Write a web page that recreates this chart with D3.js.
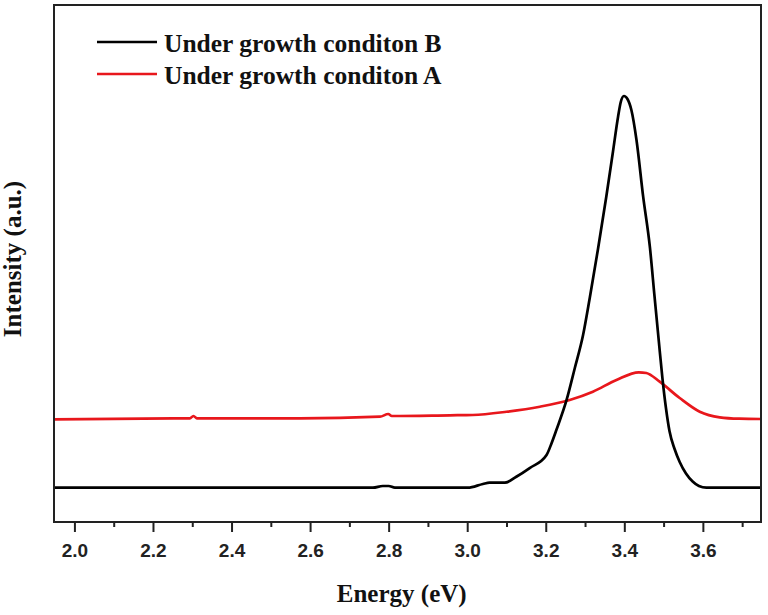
<!DOCTYPE html>
<html>
<head>
<meta charset="utf-8">
<script src="https://cdn.jsdelivr.net/npm/d3@7/dist/d3.min.js"></script>
<style>
  html, body { margin: 0; padding: 0; background: #fff; }
  svg { display: block; }
</style>
</head>
<body>
<svg id="chart" width="768" height="615"></svg>
<script>
// ---- Data ----
const seriesNames = ["Under growth conditon B", "Under growth conditon A"];
const seriesColors = ["#000000", "#e8171c"];

const energyB = [1.948, 2.76, 2.785, 2.80, 2.816, 3.002, 3.040, 3.057, 3.096, 3.125, 3.159, 3.202, 3.215, 3.227, 3.253, 3.274, 3.295, 3.312, 3.333, 3.354, 3.371, 3.384, 3.391, 3.399, 3.408, 3.418, 3.431, 3.448, 3.465, 3.477, 3.488, 3.497, 3.506, 3.515, 3.528, 3.541, 3.557, 3.574, 3.590, 3.609, 3.748];
const intensityB = [6.63, 6.63, 6.96, 6.96, 6.63, 6.63, 7.35, 7.60, 7.60, 8.76, 10.44, 12.96, 15.28, 17.79, 23.60, 29.79, 36.17, 43.33, 52.80, 62.86, 71.57, 78.34, 81.24, 82.40, 81.82, 79.69, 73.89, 62.92, 53.25, 43.58, 34.82, 27.85, 22.05, 17.60, 14.12, 11.61, 9.38, 7.83, 6.96, 6.63, 6.63];

const energyA = [1.948, 2.277, 2.294, 2.303, 2.312, 2.574, 2.778, 2.799, 2.808, 2.956, 3.014, 3.100, 3.185, 3.261, 3.320, 3.380, 3.437, 3.456, 3.490, 3.541, 3.592, 3.643, 3.693, 3.748];
const intensityA = [19.86, 20.06, 20.06, 20.50, 20.06, 20.06, 20.37, 20.89, 20.50, 20.64, 20.70, 21.33, 22.30, 23.60, 25.20, 27.47, 28.96, 28.82, 27.14, 23.98, 21.33, 20.25, 19.98, 19.92];

const xMajorTicks = [2.0, 2.2, 2.4, 2.6, 2.8, 3.0, 3.2, 3.4, 3.6];
const xMinorTicks = [2.1, 2.3, 2.5, 2.7, 2.9, 3.1, 3.3, 3.5, 3.7];
const xDomain = [1.948, 3.748];
const yDomain = [0, 100];

const xTitle = "Energy (eV)";
const yTitle = "Intensity (a.u.)";

// ---- Layout ----
const pL = 54, pR = 761, pT = 5, pB = 522;
const svg = d3.select("#chart");

const x = d3.scaleLinear().domain(xDomain).range([pL, pR]);
const y = d3.scaleLinear().domain(yDomain).range([pB, pT]);

// clip
svg.append("defs").append("clipPath").attr("id", "plotclip")
  .append("rect").attr("x", pL).attr("y", pT).attr("width", pR - pL).attr("height", pB - pT);

// lines
const series = [
  { e: energyB, v: intensityB, c: seriesColors[0] },
  { e: energyA, v: intensityA, c: seriesColors[1] }
];
const line = d3.line()
  .x(d => x(d[0]))
  .y(d => y(d[1]))
  .curve(d3.curveMonotoneX);

const plot = svg.append("g").attr("clip-path", "url(#plotclip)");
series.slice().reverse().forEach(s => {
  plot.append("path")
    .datum(s.e.map((e, i) => [e, s.v[i]]))
    .attr("fill", "none")
    .attr("stroke", s.c)
    .attr("stroke-width", 2.7)
    .attr("stroke-linejoin", "round")
    .attr("d", line);
});

// frame
svg.append("rect")
  .attr("x", pL).attr("y", pT)
  .attr("width", pR - pL).attr("height", pB - pT)
  .attr("fill", "none").attr("stroke", "#222").attr("stroke-width", 2);

// x axis major
const xAxis = d3.axisBottom(x)
  .tickValues(xMajorTicks)
  .tickSize(10)
  .tickSizeOuter(0)
  .tickPadding(6)
  .tickFormat(d3.format(".1f"));
const gx = svg.append("g").attr("transform", `translate(0,${pB})`).call(xAxis);
gx.select(".domain").remove();
gx.selectAll(".tick line").attr("stroke", "#222").attr("stroke-width", 2);
gx.selectAll(".tick text")
  .attr("fill", "#222")
  .attr("dy", null)
  .attr("y", 35)
  .style("font-family", "'Liberation Sans', Arial, sans-serif")
  .style("font-weight", "bold")
  .style("font-size", "19px");

// x axis minor
const xAxisMinor = d3.axisBottom(x)
  .tickValues(xMinorTicks)
  .tickSize(5)
  .tickSizeOuter(0)
  .tickFormat("");
const gxm = svg.append("g").attr("transform", `translate(0,${pB})`).call(xAxisMinor);
gxm.select(".domain").remove();
gxm.selectAll(".tick line").attr("stroke", "#222").attr("stroke-width", 2);

// titles
const serif = "'Liberation Serif', 'Times New Roman', serif";
svg.append("text")
  .attr("x", 401.7).attr("y", 602)
  .attr("text-anchor", "middle")
  .style("font-family", serif).style("font-weight", "bold").style("font-size", "25px")
  .attr("fill", "#111")
  .text(xTitle);

svg.append("text")
  .attr("transform", "translate(21,259) rotate(-90)")
  .attr("text-anchor", "middle")
  .style("font-family", serif).style("font-weight", "bold").style("font-size", "25px")
  .attr("fill", "#111")
  .text(yTitle);

// legend
const legendY = [42, 74];
seriesNames.forEach((name, i) => {
  const g = svg.append("g");
  g.append("line")
    .attr("x1", 97).attr("x2", 157)
    .attr("y1", legendY[i]).attr("y2", legendY[i])
    .attr("stroke", seriesColors[i]).attr("stroke-width", 2.7);
  g.append("text")
    .attr("x", 164).attr("y", legendY[i] + 9.5)
    .style("font-family", serif).style("font-weight", "bold").style("font-size", "25.5px")
    .attr("fill", "#111")
    .text(name);
});
</script>
</body>
</html>
